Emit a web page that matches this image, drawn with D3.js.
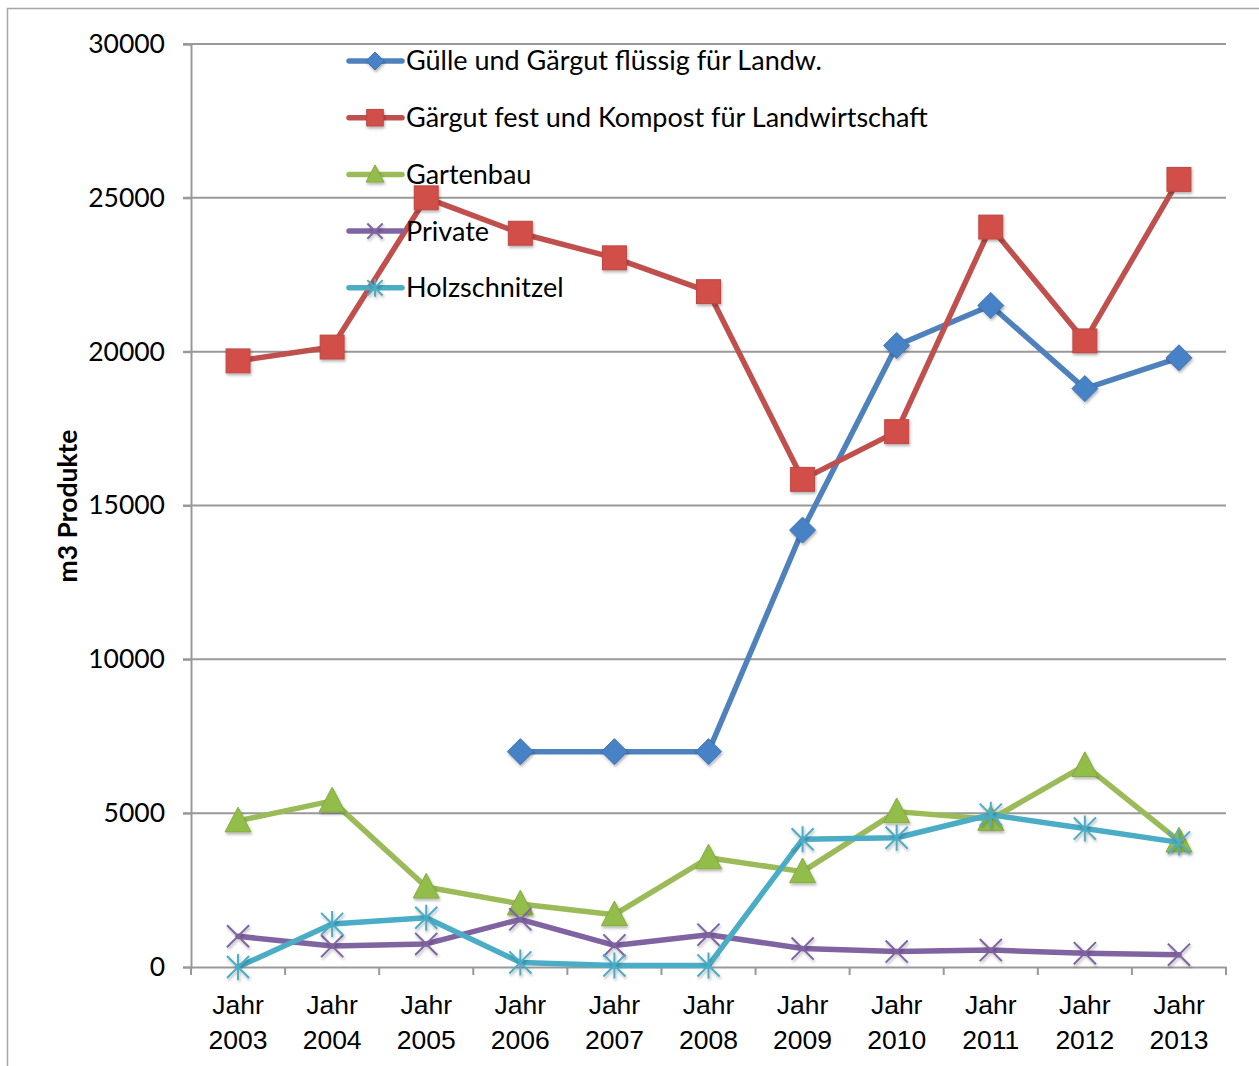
<!DOCTYPE html>
<html>
<head>
<meta charset="utf-8">
<script src="https://cdn.jsdelivr.net/npm/d3@7"></script>
<style>
  body { margin: 0; background: #fff; }
  svg { font-family: Lato, "Open Sans", sans-serif; }
</style>
</head>
<body>
<script>
    //Data
        const years = ["2003", "2004", "2005", "2006", "2007", "2008", "2009", "2010", "2011", "2012", "2013"];
        const yTicks = [0, 5000, 10000, 15000, 20000, 25000, 30000];

        const guelle = [null, null, null, 7000, 7000, 7000, 14200, 20200, 21500, 18800, 19800];
        const gaergut = [19700, 20150, 25000, 23850, 23050, 21950, 15850, 17400, 24050, 20350, 25600];
        const gartenbau = [4750, 5400, 2600, 2050, 1700, 3550, 3100, 5050, 4800, 6550, 4100];
        const privat = [1000, 680, 750, 1550, 700, 1050, 600, 500, 550, 450, 400];
        const holz = [0, 1400, 1600, 150, 50, 50, 4150, 4200, 4950, 4500, 4050];

        const seriesNames = ["Gülle und Gärgut flüssig für Landw.", "Gärgut fest und Kompost für Landwirtschaft", "Gartenbau", "Private", "Holzschnitzel"];
        const seriesColors = ["#4f81bd", "#c0504d", "#9bbb59", "#8064a2", "#4bacc6"];
        const markerFill = ["#4681c6", "#d24f49", "#93bd4a", "#8064a2", "#4bacc6"];
        const markerTypes = ["diamond", "square", "triangle", "x", "star"];
        const seriesValues = [guelle, gaergut, gartenbau, privat, holz];

    //Layout
        const width = 1259;
        const height = 1066;
        const plot = {left: 191, right: 1226, top: 44, bottom: 967};

        const svg = d3.select("body").append("svg")
            .attr("width", width)
            .attr("height", height);

        const defs = svg.append("defs");
        const f = defs.append("filter").attr("id", "shadow")
            .attr("x", "-50%").attr("y", "-50%").attr("width", "200%").attr("height", "200%");
        f.append("feDropShadow").attr("dx", 1).attr("dy", 2).attr("stdDeviation", 1.5)
            .attr("flood-color", "#000").attr("flood-opacity", 0.3);

    //Chart frame
        svg.append("rect")
            .attr("x", 7.5).attr("y", 8.5)
            .attr("width", 1270).attr("height", 1080)
            .attr("fill", "none")
            .attr("stroke", "#a6a6a6")
            .attr("stroke-width", 1.5);

    //Scales
        const xScale = d3.scaleBand()
            .domain(years)
            .range([plot.left, plot.right]);

        const yScale = d3.scaleLinear()
            .domain([0, 30000])
            .range([plot.bottom, plot.top]);

    //Grid lines
        svg.append("g")
            .selectAll("line")
            .data(yTicks.filter(d => d > 0))
            .enter()
            .append("line")
            .attr("x1", plot.left - 8)
            .attr("x2", plot.right)
            .attr("y1", d => yScale(d))
            .attr("y2", d => yScale(d))
            .attr("stroke", "#999")
            .attr("stroke-width", 2);

    //Axes
        const leftAxis = d3.axisLeft(yScale)
            .tickValues(yTicks)
            .tickSize(8)
            .tickPadding(18)
            .tickFormat(d => d);

        const gy = svg.append("g")
            .attr("transform", "translate(" + plot.left + ",0)")
            .call(leftAxis);
        gy.select(".domain").attr("stroke", "#999").attr("stroke-width", 2);
        gy.selectAll(".tick line").attr("stroke", "#999").attr("stroke-width", 2);
        gy.selectAll(".tick text")
            .attr("font-size", 26.5)
            .attr("font-family", "Lato, sans-serif")
            .attr("fill", "#000");

        const bottomAxis = d3.axisBottom(xScale)
            .tickSize(0)
            .tickFormat("");

        const gx = svg.append("g")
            .attr("transform", "translate(0," + plot.bottom + ")")
            .call(bottomAxis);
        gx.select(".domain").attr("stroke", "#999").attr("stroke-width", 2);

        // tick marks between categories
        const bounds = years.map(d => xScale(d)).concat([plot.right]);
        gx.selectAll(".sep")
            .data(bounds)
            .enter()
            .append("line")
            .attr("x1", d => d).attr("x2", d => d)
            .attr("y1", 0).attr("y2", 8)
            .attr("stroke", "#999")
            .attr("stroke-width", 2);

        const labels = gx.selectAll(".lbl")
            .data(years)
            .enter()
            .append("text")
            .attr("text-anchor", "middle")
            .attr("font-size", 26.5)
            .attr("fill", "#000")
            .attr("x", d => xScale(d) + xScale.bandwidth() / 2);
        labels.append("tspan").attr("y", 47).text("Jahr")
            .attr("x", d => xScale(d) + xScale.bandwidth() / 2);
        labels.append("tspan").attr("y", 82).text(d => d)
            .attr("x", d => xScale(d) + xScale.bandwidth() / 2);

    //Y axis title
        svg.append("text")
            .attr("transform", "translate(77,506) rotate(-90)")
            .attr("text-anchor", "middle")
            .attr("font-size", 26.5)
            .attr("font-weight", "bold")
            .attr("fill", "#000")
            .text("m3 Produkte");

    //Markers
        function drawMarker(g, type, color, fill, size) {
            const s = size / 2;
            if (type === "diamond") {
                g.append("path").attr("d", `M0,${-s}L${s},0L0,${s}L${-s},0Z`)
                    .attr("fill", fill).attr("stroke", d3.color(fill).darker(0.3)).attr("stroke-width", 1)
                    .attr("filter", "url(#shadow)");
            } else if (type === "square") {
                const q = s * 0.92;
                g.append("rect").attr("x", -q).attr("y", -q).attr("width", 2 * q).attr("height", 2 * q)
                    .attr("fill", fill).attr("stroke", d3.color(fill).darker(0.3)).attr("stroke-width", 1)
                    .attr("filter", "url(#shadow)");
            } else if (type === "triangle") {
                g.append("path").attr("d", `M0,${-s * 1.05}L${s},${s * 0.85}L${-s},${s * 0.85}Z`)
                    .attr("fill", fill).attr("stroke", d3.color(fill).darker(0.3)).attr("stroke-width", 1)
                    .attr("filter", "url(#shadow)");
            } else if (type === "x") {
                const q = s * 0.85;
                g.append("path").attr("d", `M${-q},${-q}L${q},${q}M${-q},${q}L${q},${-q}`)
                    .attr("stroke", color).attr("stroke-width", 2).attr("fill", "none")
                    .attr("filter", "url(#shadow)");
            } else if (type === "star") {
                const q = s * 0.85;
                g.append("path").attr("d", `M${-q},${-q}L${q},${q}M${-q},${q}L${q},${-q}M0,${-s}L0,${s}`)
                    .attr("stroke", color).attr("stroke-width", 2).attr("fill", "none")
                    .attr("filter", "url(#shadow)");
            }
        }

    //Lines
        const line = d3.line()
            .defined(d => d.v !== null)
            .x(d => xScale(d.year) + xScale.bandwidth() / 2)
            .y(d => yScale(d.v));

        seriesValues.forEach((vals, i) => {
            const pts = years.map((y, j) => ({year: y, v: vals[j]}));
            const g = svg.append("g");
            g.append("path")
                .datum(pts)
                .attr("d", line)
                .attr("fill", "none")
                .attr("stroke", seriesColors[i])
                .attr("stroke-width", 5.5)
                .attr("stroke-linejoin", "round")
                .attr("stroke-linecap", "round");

            pts.filter(d => d.v !== null).forEach(d => {
                const m = g.append("g")
                    .attr("transform", "translate(" + (xScale(d.year) + xScale.bandwidth() / 2) + "," + yScale(d.v) + ")");
                drawMarker(m, markerTypes[i], seriesColors[i], markerFill[i], 26);
            });
        });

    //Legend
        const legend = svg.append("g");
        seriesNames.forEach((name, i) => {
            const y = 61 + i * 56.7;
            const row = legend.append("g");
            row.append("line")
                .attr("x1", 349).attr("x2", 402)
                .attr("y1", y).attr("y2", y)
                .attr("stroke", seriesColors[i])
                .attr("stroke-width", 5.5)
                .attr("stroke-linecap", "round");
            const m = row.append("g").attr("transform", "translate(375," + y + ")");
            drawMarker(m, markerTypes[i], seriesColors[i], markerFill[i], 18);
            row.append("text")
                .attr("x", 406)
                .attr("y", y)
                .attr("dy", "0.35em")
                .attr("font-size", 27)
                .attr("fill", "#000")
                .text(name);
        });
</script>
</body>
</html>
